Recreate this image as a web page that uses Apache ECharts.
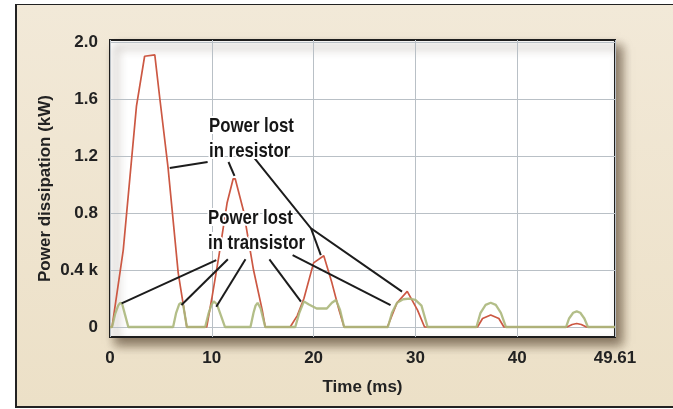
<!DOCTYPE html>
<html>
<head>
<meta charset="utf-8">
<script src="https://cdn.jsdelivr.net/npm/echarts@6/dist/echarts.min.js"></script>
<style>
    html, body { margin: 0; padding: 0; background: #fff; }
    .wrap { position: relative; width: 673px; height: 409px; overflow: hidden; }
    .frame {
        position: absolute; left: 15px; top: 4px; width: 700px; height: 401px;
        border-left: 2px solid #222; border-top: 1.5px solid #222; border-bottom: 2px solid #222;
        background: linear-gradient(#f2e9d8, #ece0c7);
    }
    .chart { position: absolute; left: 0; top: 0; width: 673px; height: 409px; }
</style>
</head>
<body>
<div class="wrap">
    <div class="frame"></div>
    <div class="chart"></div>
</div>
<script>
// 电阻损耗 (红线)
const resistorTime = [0, 0.2, 1.3, 2.6, 3.4, 4.4, 4.9, 5.7, 6.7, 7.55,
    9.5, 10.0, 10.7, 11.5, 12.1, 12.3, 13.1, 14.1, 14.95, 15.25,
    17.7, 18.4, 19.05, 20.0, 21.0, 21.8, 22.5, 23.0,
    27.25, 28.2, 29.2, 30.2, 30.9,
    36.1, 36.6, 37.4, 38.2, 38.7,
    44.9, 45.4, 45.85, 46.3, 46.8, 49.61]
const resistorPower = [0, 0, 0.54, 1.55, 1.9, 1.91, 1.6, 1.12, 0.38, 0,
    0, 0.2, 0.5, 0.87, 1.04, 1.04, 0.82, 0.4, 0.12, 0,
    0, 0.08, 0.2, 0.45, 0.5, 0.31, 0.12, 0,
    0, 0.17, 0.25, 0.12, 0,
    0, 0.06, 0.085, 0.06, 0,
    0, 0.018, 0.025, 0.018, 0, 0]

// 晶体管损耗 (绿线)
const transistorTime = [0, 0.2, 0.5, 0.8, 1.0, 1.2, 1.5, 1.8,
    6.2, 6.5, 6.8, 7.0, 7.2, 7.55,
    9.35, 9.7, 10.0, 10.2, 10.5, 10.9, 11.3,
    13.8, 14.1, 14.3, 14.5, 14.8, 15.25,
    18.2, 18.6, 19.05, 19.5, 20.3, 21.3, 21.8, 22.2, 22.6, 23.0,
    27.3, 27.7, 28.2, 28.8, 29.4, 30.0, 30.6, 31.2,
    36.0, 36.4, 36.9, 37.4, 37.9, 38.4, 38.9,
    44.8, 45.1, 45.5, 45.85, 46.2, 46.6, 46.95, 49.61]
const transistorPower = [0, 0, 0.09, 0.15, 0.17, 0.16, 0.08, 0,
    0, 0.1, 0.16, 0.17, 0.15, 0,
    0, 0.1, 0.16, 0.18, 0.16, 0.08, 0,
    0, 0.1, 0.15, 0.17, 0.13, 0,
    0, 0.1, 0.18, 0.16, 0.13, 0.13, 0.17, 0.19, 0.12, 0,
    0, 0.1, 0.17, 0.195, 0.2, 0.19, 0.15, 0,
    0, 0.1, 0.155, 0.17, 0.155, 0.1, 0,
    0, 0.06, 0.1, 0.11, 0.1, 0.06, 0, 0]

// 刻度
const yTickValues = [0, 0.4, 0.8, 1.2, 1.6, 2.0]
const yTickLabels = ['0', '0.4 k', '0.8', '1.2', '1.6', '2.0']
const xMax = 49.61

// 标注引线 (数据坐标)
const resistorPointers = [
    [[9.59, 1.158], [5.87, 1.116]],
    [[11.64, 1.158], [12.23, 1.06]],
    [[14.19, 1.186], [19.74, 0.693], [28.69, 0.248]],
    [[19.74, 0.693], [20.71, 0.505]]
]
const transistorPointers = [
    [[10.44, 0.47], [1.14, 0.166]],
    [[11.58, 0.475], [7.02, 0.154]],
    [[13.31, 0.475], [10.44, 0.142]],
    [[15.66, 0.475], [18.76, 0.178]],
    [[17.94, 0.505], [27.56, 0.154]]
]

const zip = (xs, ys) => xs.map((x, i) => [x, ys[i]])

;(function () {
    const myChart = echarts.init(document.querySelector('.chart'))
    const labelFont = 'Liberation Sans, Arial, sans-serif'
    const noteFont = 'bold 21px "Liberation Sans", Arial, sans-serif'
    const option = {
        animation: false,
        grid: {
            left: 110,
            right: 58,
            top: 40,
            bottom: 72,
            show: true,
            backgroundColor: '#fff',
            borderColor: '#1e1e1e',
            borderWidth: 2,
            shadowColor: 'rgba(60, 40, 20, 0.6)',
            shadowBlur: 10,
            shadowOffsetX: 6,
            shadowOffsetY: 7
        },
        xAxis: {
            type: 'value',
            min: 0,
            max: xMax,
            interval: 10,
            name: 'Time (ms)',
            nameLocation: 'middle',
            nameGap: 42,
            nameTextStyle: { fontFamily: labelFont, fontWeight: 'bold', fontSize: 17, color: '#222' },
            axisLine: { show: false },
            axisTick: { show: false },
            axisLabel: {
                margin: 13,
                fontFamily: labelFont, fontWeight: 'bold', fontSize: 17, color: '#222',
                showMaxLabel: true,
                formatter: v => String(v)
            },
            splitLine: { lineStyle: { color: '#b9c0c6', width: 1 } }
        },
        yAxis: {
            type: 'value',
            min: -0.07,
            max: 2.014,
            name: 'Power dissipation (kW)',
            nameLocation: 'middle',
            nameGap: 56,
            nameMoveOverlap: false,
            nameTextStyle: { fontFamily: labelFont, fontWeight: 'bold', fontSize: 17, color: '#222' },
            axisLine: { show: false },
            axisTick: { show: false, customValues: yTickValues },
            axisLabel: {
                margin: 12,
                customValues: yTickValues,
                fontFamily: labelFont, fontWeight: 'bold', fontSize: 17, color: '#222',
                formatter: v => {
                    const i = yTickValues.findIndex(t => Math.abs(t - v) < 1e-6)
                    return i >= 0 ? yTickLabels[i] : ''
                }
            },
            splitLine: { lineStyle: { color: '#b9c0c6', width: 1 } }
        },
        series: [
            {
                name: 'Power lost in resistor',
                type: 'line',
                symbol: 'none',
                data: zip(resistorTime, resistorPower),
                lineStyle: { color: '#cc5843', width: 1.7 },
                z: 3
            },
            {
                name: 'Power lost in transistor',
                type: 'line',
                symbol: 'none',
                data: zip(transistorTime, transistorPower),
                lineStyle: { color: '#abb77b', width: 2.3, opacity: 0.9 },
                z: 4
            },
            {
                type: 'lines',
                coordinateSystem: 'cartesian2d',
                polyline: true,
                silent: true,
                data: resistorPointers.concat(transistorPointers).map(c => ({ coords: c })),
                lineStyle: { color: '#1c1c1c', width: 2, opacity: 1, curveness: 0 },
                z: 5
            }
        ],
        graphic: [
            {
                type: 'text', z: 100, x: 209, y: 114, scaleX: 0.8,
                style: { text: 'Power lost\nin resistor', font: noteFont, lineHeight: 25, verticalAlign: 'top', fill: '#161616', stroke: '#fff', lineWidth: 4 }
            },
            {
                type: 'text', z: 100, x: 208, y: 206, scaleX: 0.8,
                style: { text: 'Power lost\nin transistor', font: noteFont, lineHeight: 25, verticalAlign: 'top', fill: '#161616', stroke: '#fff', lineWidth: 4 }
            }
        ]
    }
    myChart.setOption(option)
})()
</script>
</body>
</html>
